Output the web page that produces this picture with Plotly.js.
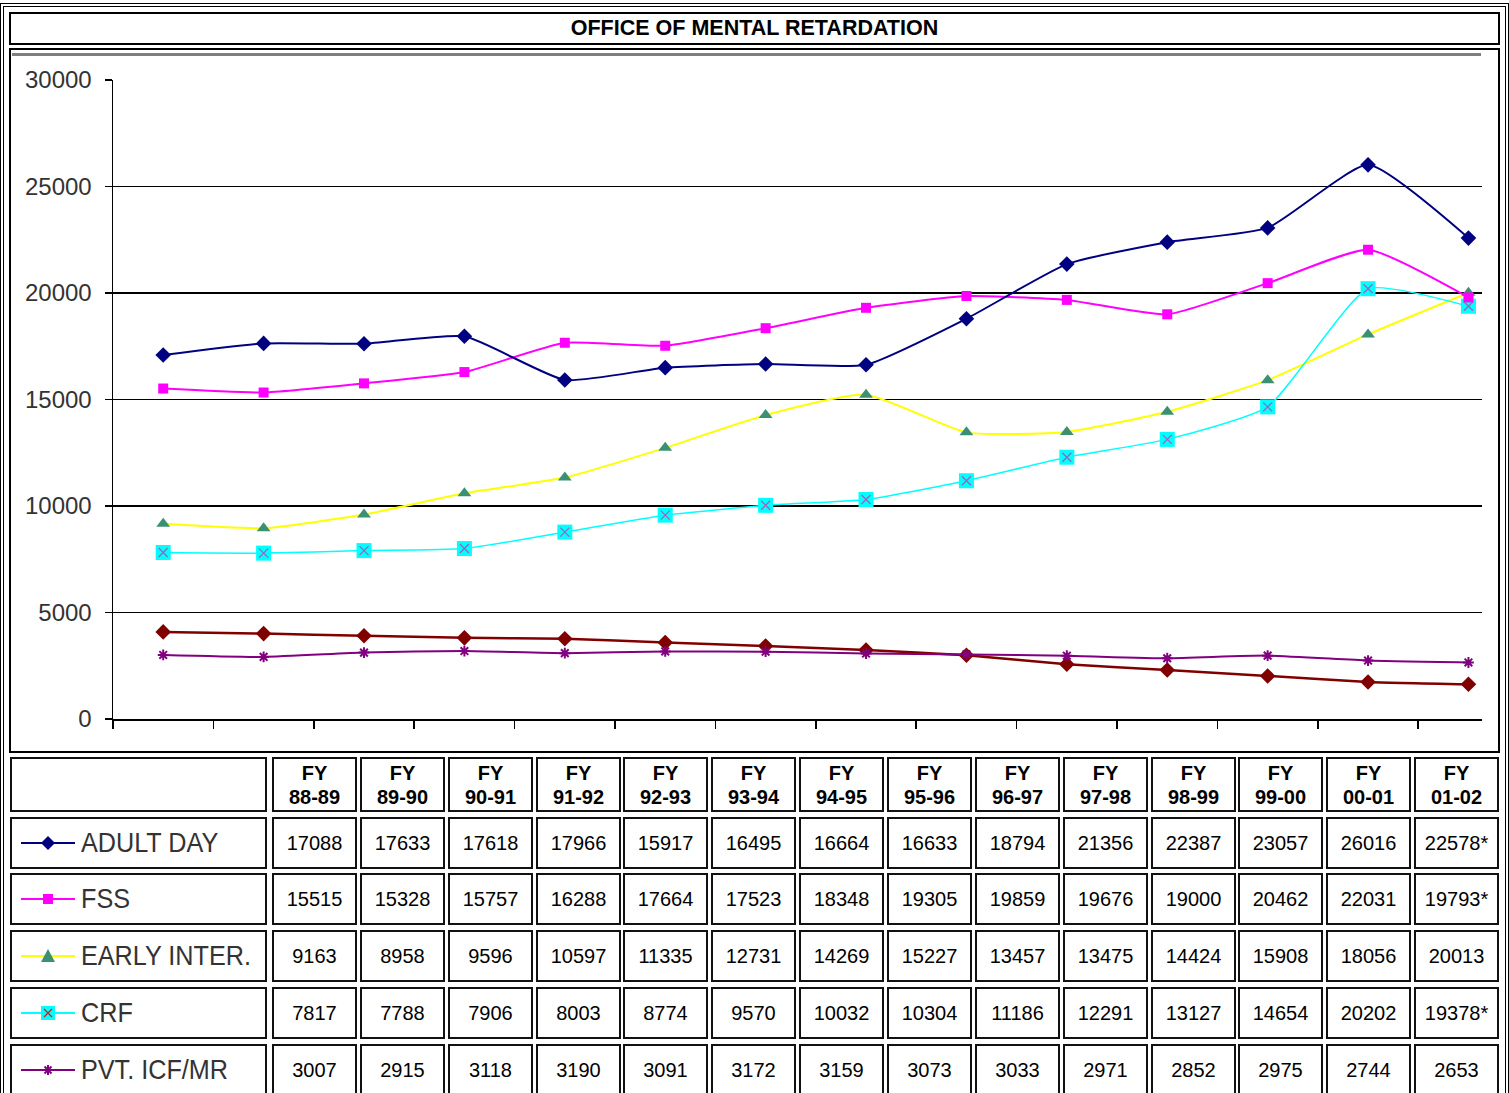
<!DOCTYPE html>
<html>
<head>
<meta charset="utf-8">
<script src="https://cdn.plot.ly/plotly-3.0.1.min.js"></script>
<style>
  html, body { margin:0; padding:0; width:1509px; height:1093px; overflow:hidden; background:#fff; }
  .box { position:absolute; box-sizing:border-box; }
  .cell { position:absolute; box-sizing:border-box; border:2px solid #111; background:#fff;
          display:flex; align-items:center; justify-content:center; text-align:center;
          font-family:"Liberation Sans", Arial, sans-serif; font-size:20px; color:#000; white-space:nowrap; overflow:hidden; }
  .hdr { font-weight:bold; line-height:24px; }
  .lab { justify-content:flex-start; font-family:"Liberation Sans", Arial, sans-serif;
         font-size:28px; color:#333; }
  .lab span { display:inline-block; transform:scaleX(0.9); transform-origin:left center; }
  #plot { position:absolute; left:0; top:0; width:1509px; height:760px; z-index:2; }
</style>
</head>
<body>
<div class="box" style="left:0px;top:3px;width:1509px;height:1200px;border:4px double #000;"></div>
<div class="box" style="left:9px;top:12px;width:1491px;height:33px;border:2px solid #000;display:flex;align-items:center;justify-content:center;font-family:'Liberation Sans',Arial,sans-serif;font-weight:bold;font-size:21.5px;">OFFICE OF MENTAL RETARDATION</div>
<div class="box" style="left:9px;top:48px;width:1491px;height:705px;border:2px solid #000;"></div>
<div class="box" style="left:12px;top:53px;width:1469px;height:3px;background:#7f7f7f;"></div>
<div id="plot"></div>
<div id="table"></div>
<script>
// ---------- DATA ----------
const categories = ['88-89','89-90','90-91','91-92','92-93','93-94','94-95','95-96','96-97','97-98','98-99','99-00','00-01','01-02'];
const adultDay  = [17088,17633,17618,17966,15917,16495,16664,16633,18794,21356,22387,23057,26016,22578];
const fss       = [15515,15328,15757,16288,17664,17523,18348,19305,19859,19676,19000,20462,22031,19793];
const earlyInter= [9163,8958,9596,10597,11335,12731,14269,15227,13457,13475,14424,15908,18056,20013];
const crf       = [7817,7788,7906,8003,8774,9570,10032,10304,11186,12291,13127,14654,20202,19378];
const pvtIcf    = [3007,2915,3118,3190,3091,3172,3159,3073,3033,2971,2852,2975,2744,2653];
const stateSeries = [4090,4010,3910,3810,3770,3590,3430,3240,2990,2570,2300,2020,1740,1630];
const tableLabels = ['ADULT DAY','FSS','EARLY INTER.','CRF','PVT. ICF/MR'];
const tableSuffix = {0:{13:'*'},1:{13:'*'},3:{13:'*'}};
const yTicks = [0,5000,10000,15000,20000,25000,30000];

// ---------- CHART ----------
const xs = categories.map((c,i)=>i);
const ln = (color,width)=>({color:color,width:width,shape:'spline',smoothing:0.5});
const traces = [
  {x:xs,y:stateSeries,mode:'lines+markers',line:ln('#800000',2.5),
   marker:{symbol:'diamond',size:12,color:'#800000'}},
  {x:xs,y:pvtIcf,mode:'lines+markers',line:ln('#800080',2),
   marker:{symbol:'asterisk-open',size:9,line:{color:'#800080',width:2}}},
  {x:xs,y:earlyInter,mode:'lines+markers',line:ln('#FFFF00',2),
   marker:{symbol:'triangle-up',size:12,color:'#3A9070'}},
  {x:xs,y:crf,mode:'lines+markers',line:ln('#00FFFF',1.5),
   marker:{symbol:'square',size:15,color:'#00FFFF'}},
  {x:xs,y:crf,mode:'markers',
   marker:{symbol:'x-thin-open',size:9,line:{color:'#CC2222',width:1.3}}},
  {x:xs,y:fss,mode:'lines+markers',line:ln('#FF00FF',2),
   marker:{symbol:'square',size:10,color:'#FF00FF'}},
  {x:xs,y:adultDay,mode:'lines+markers',line:ln('#000080',2),
   marker:{symbol:'diamond',size:12,color:'#000080'}}
];
const layout = {
  width:1509, height:760,
  margin:{l:113,r:27,t:80,b:41,pad:0},
  paper_bgcolor:'rgba(0,0,0,0)', plot_bgcolor:'rgba(0,0,0,0)',
  showlegend:false,
  xaxis:{range:[-0.5,13.135],tickmode:'array',tickvals:categories.map((c,i)=>i-0.5),
         showticklabels:false,ticks:'outside',ticklen:8,tickcolor:'#000',tickwidth:1.5,
         showgrid:false,zeroline:false,showline:true,linecolor:'#000',linewidth:1.5,fixedrange:true},
  yaxis:{range:[0,30000],tickmode:'array',tickvals:yTicks,ticktext:yTicks.map(String),
         ticks:'outside',ticklen:7,tickcolor:'#000',tickwidth:1.5,
         showgrid:true,gridcolor:'#000',gridwidth:1.6,zeroline:false,
         showline:true,linecolor:'#000',linewidth:1.5,ticklabelstandoff:8,
         tickfont:{family:'"Liberation Sans", Arial, sans-serif',size:24,color:'#333'},
         fixedrange:true}
};
Plotly.newPlot('plot',traces,layout,{staticPlot:true,displayModeBar:false});

// ---------- TABLE ----------
const series = [adultDay,fss,earlyInter,crf,pvtIcf];
const sampleSvg = [
  '<polygon points="27,3 34,10 27,17 20,10" fill="#000080"/>',
  '<rect x="22" y="5" width="10" height="10" fill="#FF00FF"/>',
  '<polygon points="27,3 34,16 20,16" fill="#3A9070"/>',
  '<rect x="20" y="3" width="14" height="14" fill="#00FFFF"/><path d="M23,6 L31,14 M31,6 L23,14" stroke="#CC2222" stroke-width="1.3"/>',
  '<path d="M27,5 L27,15 M22,10 L32,10 M23.5,6.5 L30.5,13.5 M30.5,6.5 L23.5,13.5" stroke="#800080" stroke-width="2"/>'
];
const lineCols = ['#000080','#FF00FF','#FFFF00','#00FFFF','#800080'];
const tbl = document.getElementById('table');
function cell(x,y,w,h,html,cls){
  const d=document.createElement('div'); d.className='cell '+(cls||'');
  d.style.left=x+'px'; d.style.top=y+'px'; d.style.width=w+'px'; d.style.height=h+'px';
  d.innerHTML=html; tbl.appendChild(d); return d;
}
const colX = i => Math.round(272 + i*87.85);
const colW = 85;
cell(10,757,257,55,'','');
categories.forEach((c,i)=>cell(colX(i),757,colW,55,'FY<br>'+c,'hdr'));
const rowTops=[817,873,930,987,1044];
series.forEach((s,r)=>{
  const top=rowTops[r];
  cell(10,top,257,52,
    '<svg width="56" height="20" style="margin-left:9px;margin-right:4px;flex:none"><line x1="0" y1="10" x2="54" y2="10" stroke="'+lineCols[r]+'" stroke-width="2"/>'+sampleSvg[r]+'</svg><span>'+tableLabels[r]+'</span>','lab');
  s.forEach((v,i)=>{
    const suf=(tableSuffix[r]&&tableSuffix[r][i])||'';
    cell(colX(i),top,colW,52,String(v)+suf,'');
  });
});
</script>
</body>
</html>
